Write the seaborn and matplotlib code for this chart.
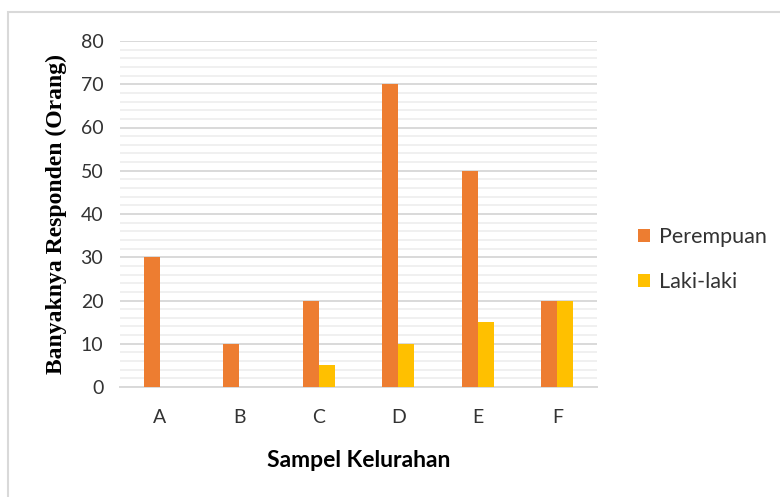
import matplotlib
matplotlib.use("Agg")
import matplotlib.pyplot as plt
from matplotlib.patches import Rectangle
from matplotlib.ticker import MultipleLocator
import seaborn as sns
import pandas as pd

# Respondent counts per sampled kelurahan
kelurahan = ["A", "B", "C", "D", "E", "F"]
perempuan = [30, 10, 20, 70, 50, 20]
laki_laki = [0, 0, 5, 10, 15, 20]
series_names = ["Perempuan", "Laki-laki"]
series_colors = ["#ED7D31", "#FFC000"]

df = pd.DataFrame({
    "Kelurahan": kelurahan * 2,
    "Jumlah": perempuan + laki_laki,
    "Jenis": [series_names[0]] * len(kelurahan) + [series_names[1]] * len(kelurahan),
})

sns.set_theme(style="white")
plt.rcParams["font.family"] = ["Lato", "DejaVu Sans"]

fig = plt.figure(figsize=(7.8, 4.97), dpi=100)
ax = fig.add_axes([120 / 780, 1 - 387 / 497, 477 / 780, 346 / 497])

sns.barplot(
    data=df, x="Kelurahan", y="Jumlah", hue="Jenis",
    hue_order=series_names, palette=series_colors,
    width=0.4, linewidth=0, saturation=1, ax=ax, zorder=3,
)

ax.set_xlim(-0.5, len(kelurahan) - 0.5)
ax.set_ylim(0, 80)
ax.yaxis.set_major_locator(MultipleLocator(10))
ax.yaxis.set_minor_locator(MultipleLocator(2))
ax.grid(which="major", axis="y", color="#d9d9d9", linewidth=1.4, zorder=0)
ax.grid(which="minor", axis="y", color="#f0f0f0", linewidth=1.4, zorder=0)
ax.set_axisbelow(True)
for side in ["top", "right", "left"]:
    ax.spines[side].set_visible(False)
ax.spines["bottom"].set_color("#d9d9d9")
ax.spines["bottom"].set_linewidth(1.4)

ax.tick_params(axis="y", which="both", length=0, pad=12, labelsize=14, labelcolor="#333333")
ax.tick_params(axis="x", length=0, pad=16, labelsize=14, labelcolor="#333333")

ax.set_xlabel("Sampel Kelurahan", fontsize=16.5, fontweight="bold", color="black", labelpad=17)
ax.set_ylabel("Banyaknya Responden (Orang)", fontsize=17, fontweight="bold",
              family=["Liberation Serif", "DejaVu Serif"], color="black", labelpad=10)

handles, labels = ax.get_legend_handles_labels()
ax.legend(
    handles, labels, loc="center left", bbox_to_anchor=(619 / 780, 1 - 259.5 / 497),
    bbox_transform=fig.transFigure, frameon=False, fontsize=15.5,
    handlelength=0.55, handleheight=0.55, handletextpad=0.4, labelspacing=1.15,
    labelcolor="#333333",
)

# Outer chart-area border
fig.patches.append(Rectangle((8 / 780, -0.1), 1.0, 1.1 - 12 / 497,
                             transform=fig.transFigure, fill=False,
                             edgecolor="#d9d9d9", linewidth=1.5))

fig.savefig("out.png", dpi=100)
